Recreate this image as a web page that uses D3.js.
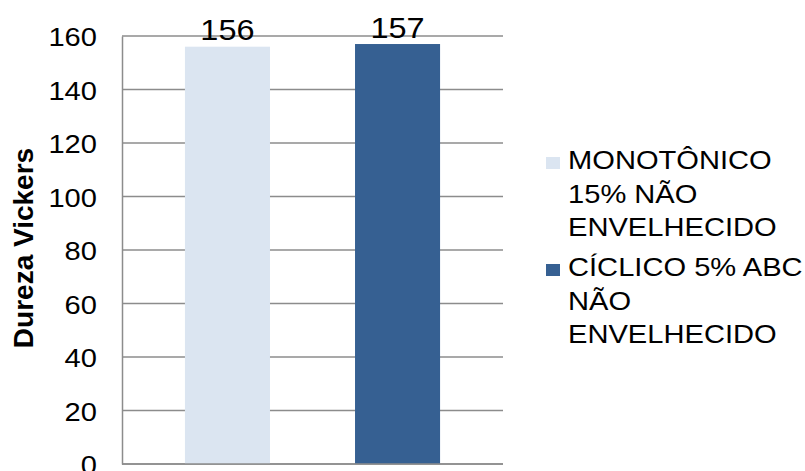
<!DOCTYPE html>
<html>
<head>
<meta charset="utf-8">
<script src="https://cdn.jsdelivr.net/npm/d3@7"></script>
<style>
  html, body { margin: 0; padding: 0; background: #fff; }
  svg { display: block; }
  text { font-family: "Liberation Sans", Arial, sans-serif; fill: #000; }
</style>
</head>
<body>
<svg id="chart" width="805" height="471"></svg>
<script>
// Vickers hardness, unaged specimens
const seriesNames = ["MONOTÔNICO 15% NÃO ENVELHECIDO", "CÍCLICO 5% ABC NÃO ENVELHECIDO"];
const seriesValues = [156, 157];
const seriesColors = ["#dbe5f1", "#366092"];
const legendLines = [
  ["MONOTÔNICO", "15% NÃO", "ENVELHECIDO"],
  ["CÍCLICO 5% ABC", "NÃO", "ENVELHECIDO"]
];
const yTicks = [0, 20, 40, 60, 80, 100, 120, 140, 160];
const yTitle = "Dureza Vickers";

const svg = d3.select("#chart");
const plot = { left: 122, right: 503, top: 36, bottom: 464 };
const sx = 1.12; // horizontal text stretch

const x = d3.scaleBand()
  .domain(seriesNames)
  .range([plot.left, plot.right])
  .paddingInner(0.5)
  .paddingOuter(0.37);

const y = d3.scaleLinear()
  .domain([0, 160])
  .range([plot.bottom, plot.top]);

// gridlines
svg.append("g")
  .selectAll("line")
  .data(yTicks)
  .join("line")
  .attr("x1", plot.left)
  .attr("x2", plot.right)
  .attr("y1", d => y(d))
  .attr("y2", d => y(d))
  .attr("stroke", "#8c8c8c")
  .attr("stroke-width", 1.5);

// bars
svg.append("g")
  .selectAll("rect")
  .data(seriesNames)
  .join("rect")
  .attr("x", d => x(d))
  .attr("width", x.bandwidth())
  .attr("y", (d, i) => y(seriesValues[i]))
  .attr("height", (d, i) => y(0) - y(seriesValues[i]))
  .attr("fill", (d, i) => seriesColors[i]);

// y axis
const yAxis = d3.axisLeft(y).tickValues(yTicks).tickSize(0).tickPadding(0);
const gy = svg.append("g")
  .attr("transform", `translate(${plot.left},0)`)
  .call(yAxis);
gy.select(".domain").attr("stroke", "#8c8c8c").attr("stroke-width", 1.5);
gy.selectAll(".tick text")
  .attr("x", null)
  .attr("dy", null)
  .attr("text-anchor", "end")
  .attr("font-size", 26)
  .attr("font-family", "Liberation Sans, Arial, sans-serif")
  .attr("fill", "#000")
  .attr("transform", `translate(-25,9.5) scale(${sx},1)`);

// x baseline
svg.append("line")
  .attr("x1", plot.left).attr("x2", plot.right)
  .attr("y1", y(0)).attr("y2", y(0))
  .attr("stroke", "#8c8c8c").attr("stroke-width", 1.5);

// value labels
svg.append("g")
  .selectAll("text")
  .data(seriesNames)
  .join("text")
  .attr("text-anchor", "middle")
  .attr("font-size", 29)
  .attr("transform", (d, i) => `translate(${x(d) + x.bandwidth() / 2},${y(seriesValues[i]) - 6.5}) scale(${sx},1)`)
  .text((d, i) => seriesValues[i]);

// y title
svg.append("text")
  .attr("text-anchor", "middle")
  .attr("font-weight", "bold")
  .attr("font-size", 28)
  .attr("transform", `translate(33,${(plot.top + plot.bottom) / 2 - 2}) rotate(-90)`)
  .text(yTitle);

// legend
const legend = svg.append("g");
const entryTop = [157, 264];
legendLines.forEach((lines, i) => {
  legend.append("rect")
    .attr("x", 546).attr("y", entryTop[i])
    .attr("width", 14).attr("height", 12)
    .attr("fill", seriesColors[i]);
  lines.forEach((t, j) => {
    legend.append("text")
      .attr("font-size", 26)
      .attr("transform", `translate(568,${entryTop[i] + 12 + j * 33.5}) scale(${sx},1)`)
      .text(t);
  });
});
</script>
</body>
</html>
